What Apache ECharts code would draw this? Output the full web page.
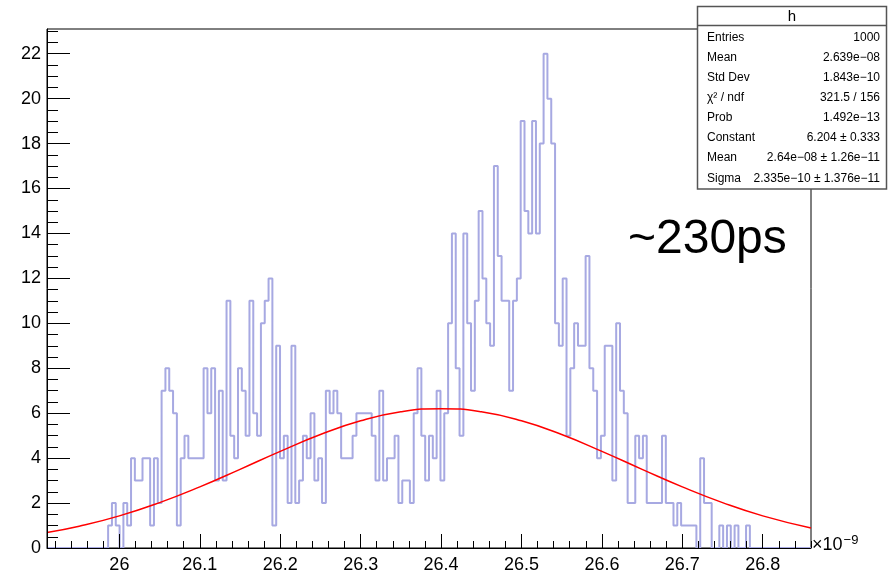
<!DOCTYPE html>
<html>
<head>
<meta charset="utf-8">
<script src="https://cdn.jsdelivr.net/npm/echarts@6/dist/echarts.min.js"></script>
<style>
html,body{margin:0;padding:0;background:#fff;}
#chart{width:889px;height:577px;}
</style>
</head>
<body>
<div id="chart"></div>
<script>
// Histogram definition (200 bins from 25.91 to 26.86, in units of 1e-9)
const histRange = [25.91, 26.86];
const binCounts = [
  0,0,0,0,0,0,0,0,0,0,0,0,0,0,0,0,
  1,2,1,0,2,1,4,3,3,4,
  4,1,4,2,7,8,7,6,1,4,
  5,4,4,4,4,8,6,8,3,7,
  3,11,5,4,8,7,5,11,6,5,
  10,11,12,1,9,4,5,2,9,2,
  3,5,4,6,3,4,2,7,6,7,
  6,4,4,4,5,6,6,6,6,5,
  3,7,3,4,4,5,2,3,3,2,
  6,8,5,3,5,4,7,3,6,10,
  14,8,5,14,10,7,11,15,12,10,
  9,17,13,11,11,7,11,12,19,15,
  14,19,14,18,22,20,18,10,9,12,
  5,8,10,9,9,13,8,7,4,5,
  9,9,3,10,7,6,2,2,5,4,
  5,2,2,2,2,5,2,2,1,2,
  1,1,1,1,0,4,2,2,0,0,
  1,0,1,0,1,0,0,1,
  0,0,0,0,0,0,0,0,0,0,0,0,0,0,0,0
];
// Red fit curve
const fitX = [25.91,25.95,26.00,26.05,26.10,26.15,26.20,26.25,26.30,26.35,26.40,26.45,26.50,26.55,26.60,26.65,26.70,26.75,26.80,26.86];
const fitY = [0.69,0.97,1.43,2.02,2.72,3.50,4.30,5.05,5.66,6.06,6.20,6.06,5.66,5.05,4.30,3.50,2.72,2.02,1.43,0.89];
// Axis tick labels
const xTickLabels = [26.0,26.1,26.2,26.3,26.4,26.5,26.6,26.7,26.8];
const yTickLabels = [0,2,4,6,8,10,12,14,16,18,20,22];
// Stats box
const statTitle = 'h';
const statNames = ['Entries','Mean','Std Dev','\u03C7\u00B2 / ndf','Prob','Constant','Mean','Sigma'];
const statValues = ['1000','2.639e\u221208','1.843e\u221210','321.5 / 156','1.492e\u221213','6.204 \u00B1 0.333','2.64e\u221208 \u00B1 1.26e\u221211','2.335e\u221210 \u00B1 1.376e\u221211'];
const annotation = '~230ps';

const nBins = binCounts.length;
const bw = (histRange[1]-histRange[0])/nBins;
const histData = [];
for (let k=0;k<nBins;k++) histData.push([histRange[0]+k*bw, binCounts[k]]);
histData.push([histRange[1], binCounts[nBins-1]]);
const fitData = fitX.map((x,i)=>[x,fitY[i]]);

// minor tick positions (axis decoration)
const xMinor=[]; for(let i=0;i<=48;i++){const v=+(25.92+i*0.02).toFixed(2); if(v<=histRange[1]+1e-9 && Math.abs(v*10-Math.round(v*10))>1e-6) xMinor.push(v);}
const yMinor=[]; for(let i=1;i<=46;i++){const v=i*0.5; if(v%2!==0 && v<=23.1) yMinor.push(v);}

const FONT='Liberation Sans';
const chart = echarts.init(document.getElementById('chart'), null, {renderer:'canvas'});
const gridL=47, gridR=78, gridT=29, gridB=29;

const graphics = [];
// stats box
graphics.push({type:'rect', shape:{x:697.5,y:6.5,width:189,height:182.5}, style:{fill:'#fff',stroke:'#555',lineWidth:1.5}, z:100});
graphics.push({type:'line', shape:{x1:697.5,y1:25.5,x2:886.5,y2:25.5}, style:{stroke:'#555',lineWidth:1.5}, z:101});
graphics.push({type:'text', style:{text:statTitle,x:792,y:16.5,align:'center',verticalAlign:'middle',font:'15px "'+FONT+'"',fill:'#000'}, z:102});
for (let i=0;i<statNames.length;i++){
  const yy = 38 + i*20 + (i===7?1:0);
  graphics.push({type:'text', style:{text:statNames[i],x:707,y:yy,align:'left',verticalAlign:'middle',font:'12px "'+FONT+'"',fill:'#000'}, z:102});
  graphics.push({type:'text', style:{text:statValues[i],x:880,y:yy,align:'right',verticalAlign:'middle',font:'12px "'+FONT+'"',fill:'#000'}, z:102});
}
graphics.push({type:'text', style:{text:annotation,x:628,y:240,align:'left',verticalAlign:'middle',font:'48px "'+FONT+'"',fill:'#000'}, z:50});
graphics.push({type:'text', style:{text:'{a|\u00D710}{b|\u22129}',x:812,y:545,align:'left',verticalAlign:'middle',
  rich:{a:{fontSize:18,fontFamily:FONT,fill:'#000',color:'#000'},b:{fontSize:13,fontFamily:FONT,color:'#000',padding:[0,0,10,1]}}}, z:50});

const option = {
  animation:false,
  backgroundColor:'#fff',
  grid:{left:gridL,right:gridR,top:gridT,bottom:gridB,show:true,borderColor:'#000',borderWidth:1,backgroundColor:'transparent'},
  xAxis:[
    {type:'value',min:histRange[0],max:histRange[1],position:'bottom',z:10,
     axisLine:{show:true,onZero:false,lineStyle:{color:'#000',width:1}},
     axisTick:{show:true,inside:true,length:14,customValues:xTickLabels,lineStyle:{color:'#000',width:1}},
     axisLabel:{show:true,customValues:xTickLabels,margin:8,color:'#000',fontSize:18,fontFamily:FONT,
       formatter:v=>String(+(+v).toFixed(1))},
     splitLine:{show:false}},
    {type:'value',min:histRange[0],max:histRange[1],position:'bottom',z:10,
     axisLine:{show:false,onZero:false},
     axisTick:{show:true,inside:true,length:7,customValues:xMinor,lineStyle:{color:'#000',width:1}},
     axisLabel:{show:false},splitLine:{show:false}}
  ],
  yAxis:[
    {type:'value',min:0,max:23.1,position:'left',z:10,
     axisLine:{show:true,onZero:false,lineStyle:{color:'#000',width:1}},
     axisTick:{show:true,inside:true,length:23,customValues:yTickLabels,lineStyle:{color:'#000',width:1}},
     axisLabel:{show:true,customValues:yTickLabels,margin:6,color:'#000',fontSize:18,fontFamily:FONT},
     splitLine:{show:false}},
    {type:'value',min:0,max:23.1,position:'left',z:10,
     axisLine:{show:false,onZero:false},
     axisTick:{show:true,inside:true,length:11,customValues:yMinor,lineStyle:{color:'#000',width:1}},
     axisLabel:{show:false},splitLine:{show:false}}
  ],
  series:[
    {type:'line',xAxisIndex:0,yAxisIndex:0,data:histData,step:'end',showSymbol:false,symbol:'none',
     lineStyle:{color:'#a7a9e2',width:2},z:1,silent:true},
    {type:'line',xAxisIndex:0,yAxisIndex:0,data:fitData,smooth:true,showSymbol:false,symbol:'none',
     lineStyle:{color:'#ff0000',width:1.5},z:2,silent:true}
  ],
  graphic:graphics
};
chart.setOption(option);
</script>
</body>
</html>
